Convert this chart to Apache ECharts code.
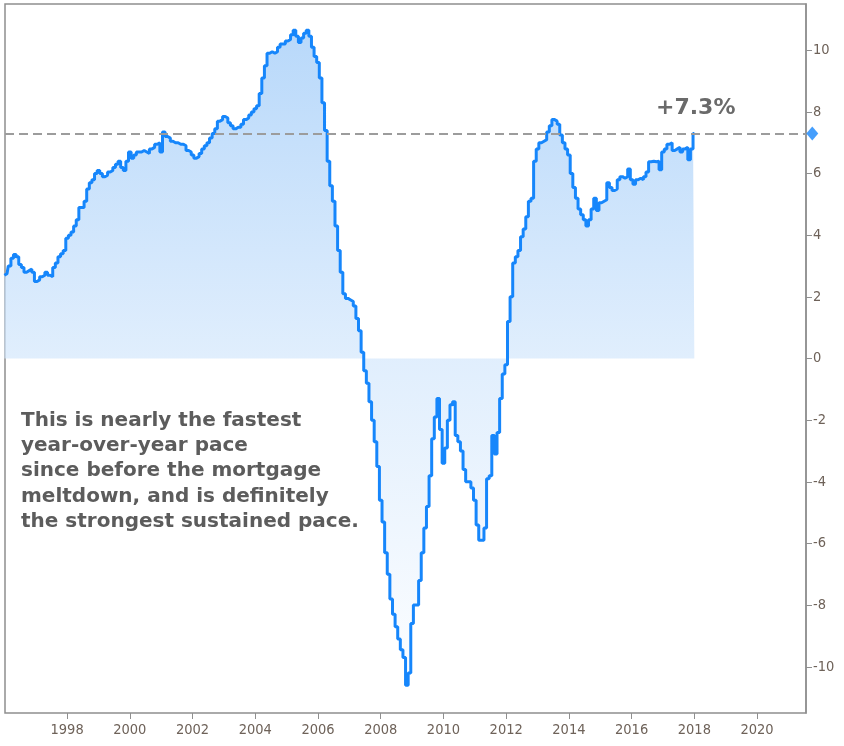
<!DOCTYPE html>
<html>
<head>
<meta charset="utf-8">
<script src="https://cdn.jsdelivr.net/npm/echarts@6/dist/echarts.min.js"></script>
<style>html,body{margin:0;padding:0;background:#fff}#c{width:844px;height:746px}</style>
</head>
<body>
<div id="c"></div>
<script>
// Monthly year-over-year % change, Jan 1996 .. Jan 2018
const startYear = 1996;
const values = [
  2.7,2.75,3.0,3.25,3.37,3.3,3.05,2.95,2.8,2.85,2.9,2.8,
  2.5,2.55,2.65,2.7,2.8,2.7,2.65,2.95,3.1,3.3,3.4,3.5,
  3.9,4.0,4.1,4.3,4.5,4.9,4.9,5.1,5.5,5.7,5.8,6.0,
  6.1,6.0,5.9,5.95,6.05,6.1,6.2,6.3,6.4,6.2,6.1,6.4,
  6.7,6.5,6.6,6.7,6.7,6.75,6.7,6.65,6.8,6.85,6.95,7.0,
  6.7,7.35,7.2,7.15,7.05,7.0,7.0,6.95,6.95,6.9,6.75,6.7,
  6.6,6.5,6.55,6.65,6.8,6.9,7.0,7.15,7.3,7.45,7.7,7.75,
  7.85,7.8,7.65,7.55,7.45,7.5,7.5,7.6,7.75,7.8,7.9,8.0,
  8.1,8.2,8.6,9.1,9.5,9.9,9.95,9.9,9.95,10.1,10.2,10.2,
  10.3,10.35,10.5,10.65,10.45,10.25,10.4,10.55,10.65,10.45,10.1,9.8,
  9.6,9.1,8.3,7.4,6.4,5.6,5.1,4.3,3.5,2.8,2.1,1.95,
  1.9,1.85,1.7,1.3,0.9,0.2,-0.4,-0.8,-1.4,-2.0,-2.7,-3.5,
  -4.6,-5.3,-6.3,-7.0,-7.8,-8.3,-8.7,-9.1,-9.45,-9.7,-10.6,-10.2,
  -8.6,-8.0,-8.0,-7.2,-6.3,-5.5,-4.8,-3.8,-2.6,-1.9,-1.3,-2.3,
  -3.4,-2.9,-2.0,-1.5,-1.4,-2.5,-2.7,-3.0,-3.6,-4.0,-4.0,-4.2,
  -4.6,-5.4,-5.9,-5.9,-5.5,-3.9,-3.8,-2.5,-3.1,-2.4,-1.3,-0.5,
  -0.2,1.2,2.0,3.1,3.3,3.5,3.95,4.2,4.6,5.1,5.2,6.4,
  6.8,7.0,7.05,7.1,7.35,7.55,7.75,7.7,7.6,7.25,7.0,6.8,
  6.6,6.0,5.55,5.2,4.85,4.66,4.5,4.3,4.5,4.85,5.2,4.8,
  5.05,5.1,5.15,5.7,5.55,5.45,5.5,5.8,5.9,5.85,5.9,6.15,
  5.8,5.65,5.8,5.85,5.8,5.9,6.05,6.38,6.4,6.38,6.4,6.12,
  6.7,6.8,6.95,7.0,6.75,6.8,6.85,6.7,6.8,6.85,6.45,6.8,
  7.3
];
const xTickYears = [1998,2000,2002,2004,2006,2008,2010,2012,2014,2016,2018,2020];
const yTickValues = [-10,-8,-6,-4,-2,0,2,4,6,8,10];
const latestValue = 7.3;
const latestLabel = '+7.3%';
const noteLines = [
  'This is nearly the fastest',
  'year-over-year pace',
  'since before the mortgage',
  'meltdown, and is definitely',
  'the strongest sustained pace.'
];
const xMin = 1996.02, xMax = 2021.56, yMin = -11.5, yMax = 11.5;

const seriesData = values.map((v, i) => [startYear + i / 12, v]);

const chart = echarts.init(document.getElementById('c'), null, {renderer: 'canvas'});
const axisFont = '"DejaVu Sans Condensed","DejaVu Sans",sans-serif';
chart.setOption({
  animation: false,
  backgroundColor: '#ffffff',
  grid: {
    left: 5, right: 38, top: 4, bottom: 33,
    show: true, borderColor: '#8f8f8f', borderWidth: 1.5, backgroundColor: 'transparent'
  },
  xAxis: {
    type: 'value', min: xMin, max: xMax,
    axisLine: {show: false, onZero: false},
    splitLine: {show: false},
    axisTick: {show: true, customValues: xTickYears, length: 6, lineStyle: {color: '#8f8f8f', width: 1}},
    axisLabel: {
      customValues: xTickYears, color: '#6e6259', fontFamily: axisFont, fontSize: 14.5, margin: 10,
      formatter: v => String(Math.round(v))
    }
  },
  yAxis: {
    type: 'value', position: 'right', min: yMin, max: yMax,
    axisLine: {show: true, onZero: false, lineStyle: {color: '#8f8f8f', width: 1.5}},
    splitLine: {show: false},
    axisTick: {show: true, customValues: yTickValues, length: 6, lineStyle: {color: '#8f8f8f', width: 1}},
    axisLabel: {customValues: yTickValues, color: '#6e6259', fontFamily: axisFont, fontSize: 14.5, margin: 7}
  },
  series: [
    {
      type: 'line',
      data: seriesData,
      step: 'middle',
      showSymbol: false,
      symbol: 'none',
      lineStyle: {color: '#1686fb', width: 3},
      areaStyle: {
        origin: 0,
        color: new echarts.graphic.LinearGradient(0, 0, 0, 1, [
          {offset: 0, color: '#9ac8f8'},
          {offset: 0.5, color: '#d3e7fc'},
          {offset: 1, color: '#fbfdff'}
        ])
      },
      markLine: {
        silent: true,
        symbol: 'none',
        label: {show: false},
        lineStyle: {color: '#9c9c9c', type: [9, 5], width: 2},
        data: [{yAxis: latestValue}]
      },
      z: 3
    },
    {
      type: 'scatter',
      data: [[xMax + 0.2, latestValue]],
      symbol: 'diamond',
      symbolSize: [12, 14],
      itemStyle: {color: '#1686fb'},
      clip: false,
      z: 5
    }
  ],
  graphic: [
    {
      type: 'text', left: 656, top: 97,
      style: {text: latestLabel, fill: '#6a6a6a', font: 'bold 22px "DejaVu Sans",sans-serif'}
    },
    {
      type: 'text', left: 21, top: 408,
      style: {
        text: noteLines.join('\n'), fill: '#5c5c5c', lineHeight: 25.3,
        font: 'bold 20px "DejaVu Sans",sans-serif'
      }
    }
  ]
});
</script>
</body>
</html>
